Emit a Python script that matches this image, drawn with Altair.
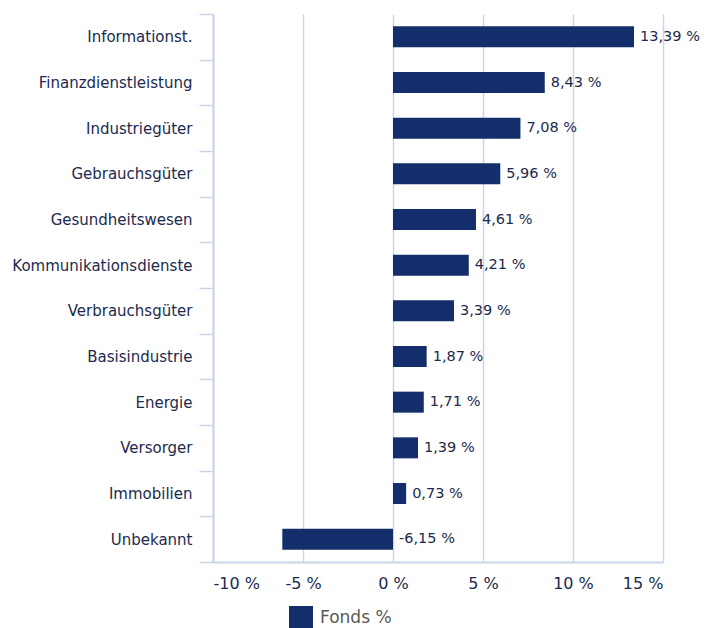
import altair as alt
import pandas as pd

categories = ["Informationst.", "Finanzdienstleistung", "Industriegüter", "Gebrauchsgüter",
              "Gesundheitswesen", "Kommunikationsdienste", "Verbrauchsgüter", "Basisindustrie",
              "Energie", "Versorger", "Immobilien", "Unbekannt"]
values = [13.39, 8.43, 7.08, 5.96, 4.61, 4.21, 3.39, 1.87, 1.71, 1.39, 0.73, -6.15]
x_ticks = [-10, -5, 0, 5, 10, 15]

df = pd.DataFrame({
    "Sektor": categories,
    "Wert": values,
    "Serie": ["Fonds %"] * len(values),
})
df["LabelPos"] = df["Wert"].clip(lower=0)
df["Label"] = df["Wert"].map(lambda v: f"{v:.2f}".replace(".", ",") + " %")

FONT = "DejaVu Sans"
TXT = "#1b2a4e"
BAR = "#132e6a"
GRID = "#c9d6e8"

yenc = alt.Y("Sektor:N", sort=categories, title=None,
             scale=alt.Scale(paddingInner=0, paddingOuter=0),
             axis=alt.Axis(domain=True, domainColor=GRID, domainWidth=2,
                           ticks=True, tickBand="extent", tickColor=GRID, tickSize=14,
                           tickWidth=1.5, labelPadding=7, labelFont=FONT, labelFontSize=15,
                           labelColor=TXT, grid=False, labelLimit=300))

xscale = alt.Scale(domain=[-10, 15], nice=False, zero=False)

bars = alt.Chart(df).mark_bar(color=BAR, height={"band": 0.46}).encode(
    x=alt.X("Wert:Q", scale=xscale, title=None,
            axis=alt.Axis(values=x_ticks, labelExpr="datum.value + ' %'",
                          domain=True, domainColor=GRID, domainWidth=2,
                          ticks=False, grid=True, gridColor=GRID, gridWidth=1.5,
                          labelPadding=13, labelFont=FONT, labelFontSize=16,
                          labelColor=TXT)),
    y=yenc,
    color=alt.Color("Serie:N", scale=alt.Scale(range=[BAR]),
                    legend=alt.Legend(title=None, orient="none", legendX=76, legendY=592,
                                      symbolType="square", symbolSize=576,
                                      symbolStrokeWidth=0, labelFont=FONT,
                                      labelFontSize=17, labelColor="#595959",
                                      labelOffset=7)),
)

labels = alt.Chart(df).mark_text(align="left", baseline="middle", dx=6,
                                 font=FONT, fontSize=14.5, color=TXT).encode(
    x=alt.X("LabelPos:Q", scale=xscale),
    y=alt.Y("Sektor:N", sort=categories),
    text="Label:N",
)

chart = (bars + labels).properties(
    width=450, height=548,
    autosize=alt.AutoSizeParams(type="none"),
    padding={"left": 205, "top": 6, "right": 37, "bottom": 70},
).configure_view(stroke=None)

chart.save("out.html", embed_options={"renderer": "svg", "actions": False})
